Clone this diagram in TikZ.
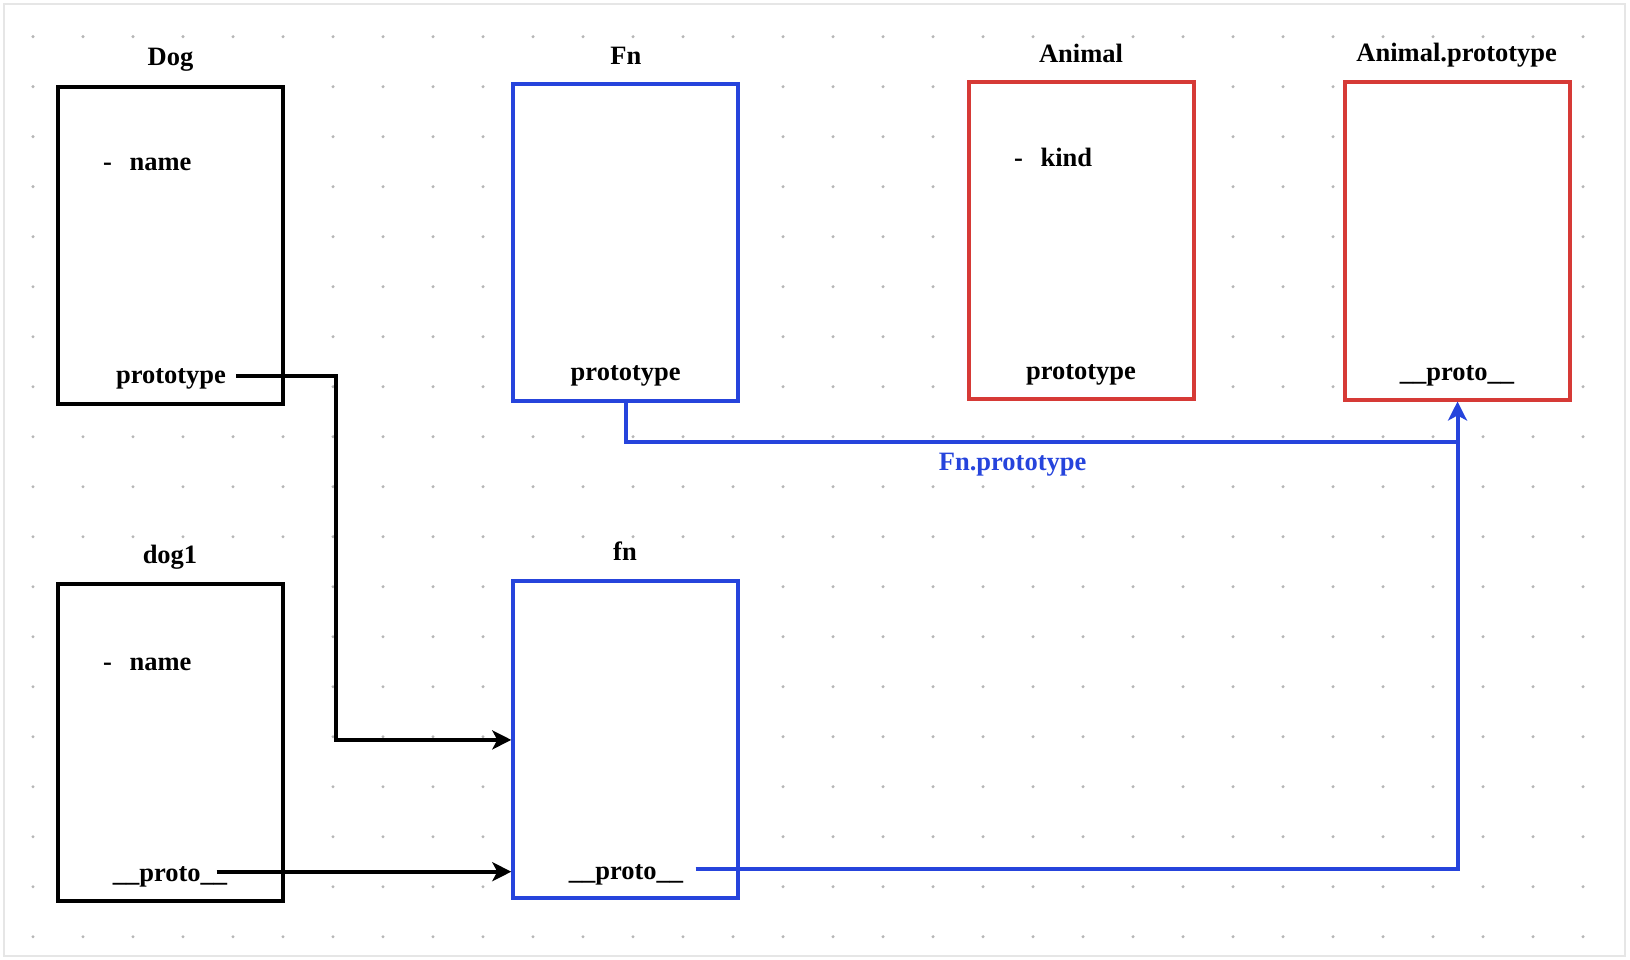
\documentclass[tikz,border=0pt]{standalone}
\usepackage{fontspec}
\setmainfont{Liberation Serif}
\usetikzlibrary{arrows.meta,calc}
\definecolor{fnblue}{RGB}{38,68,220}
\definecolor{protored}{RGB}{214,58,54}
\definecolor{griddot}{RGB}{182,182,182}
\definecolor{framegray}{RGB}{230,230,230}

\begin{document}
\begin{tikzpicture}[x=1pt,y=-1pt,
  objbox/.style={draw, line width=4pt, fill=white, minimum width=225pt,
                 minimum height=317pt, inner sep=0pt},
  lbl/.style={font=\fontsize{26.5}{30}\selectfont\bfseries, inner sep=0pt, anchor=base},
  field/.style={lbl, anchor=base west},
  conn/.style={line width=4pt, -{Stealth[length=19pt,width=19pt,inset=5pt]}},
  bconn/.style={conn, draw=fnblue},
  bline/.style={line width=4pt, draw=fnblue}
]
\useasboundingbox (0,0) rectangle (1630,960);
\draw[framegray, line width=2pt] (4,4) rectangle (1625,956);

% dotted grid
\foreach \i in {0,...,31}
  \foreach \j in {0,...,18}
    \fill[griddot] (33+50*\i, 36.7+50*\j) circle (1.7);

% objects
\node[objbox] (Dog) at (170.8,245.3) {};
\node[objbox] (dog1) at (170.6,742) {};
\node[objbox, draw=fnblue] (Fn) at (625.9,242.7) {};
\node[objbox, draw=fnblue] (fn) at (625.8,739.9) {};
\node[objbox, draw=protored] (Animal) at (1081.6,240.7) {};
\node[objbox, draw=protored] (AP) at (1457.5,241) {};

% titles
\node[lbl] (tDog) at (170.5,65.5) {Dog};
\node[lbl] (tdog1) at (170,563.5) {dog1};
\node[lbl] (tFn) at (625.8,64.5) {Fn};
\node[lbl] (tfn) at (625,560) {fn};
\node[lbl] (tAnimal) at (1081,62.5) {Animal};
\node[lbl] (tAP) at (1456.7,61.7) {Animal.prototype};

% fields
\node[field] (dogName) at (103,171) {-\hspace{17.5pt}name};
\node[field] (d1Name) at (103,670) {-\hspace{17.5pt}name};
\node[field] (animalKind) at (1014,167) {-\hspace{17.5pt}kind};
\node[lbl] (dogProto) at (171,383.5) {prototype};
\node[lbl] (FnProto) at (625.7,380.5) {prototype};
\node[lbl] (AnimalProto) at (1081,379) {prototype};
\node[lbl] (APproto) at (1457,380) {\_\_proto\_\_};
\node[lbl] (d1Proto) at (170,881.7) {\_\_proto\_\_};
\node[lbl] (fnProto) at (626,879.3) {\_\_proto\_\_};

% connector ends
\coordinate (dogOut) at (236,375.7);
\coordinate (d1Out) at (216.7,871.7);
\coordinate (fnOut) at (695.6,869);
\coordinate (busY) at (0,442);

% connectors
\draw[conn] (dogOut) -- ++(100,0) |- (fn.west);
\draw[conn] (d1Out) -- (fn.west |- d1Out);
\draw[bline] (Fn.south) |- (AP.south |- busY);
\draw[bconn] (fnOut) -| (AP.south);
\node[lbl, text=fnblue] (edgeLbl) at (1012.6,470) {Fn.prototype};
\end{tikzpicture}
\end{document}
